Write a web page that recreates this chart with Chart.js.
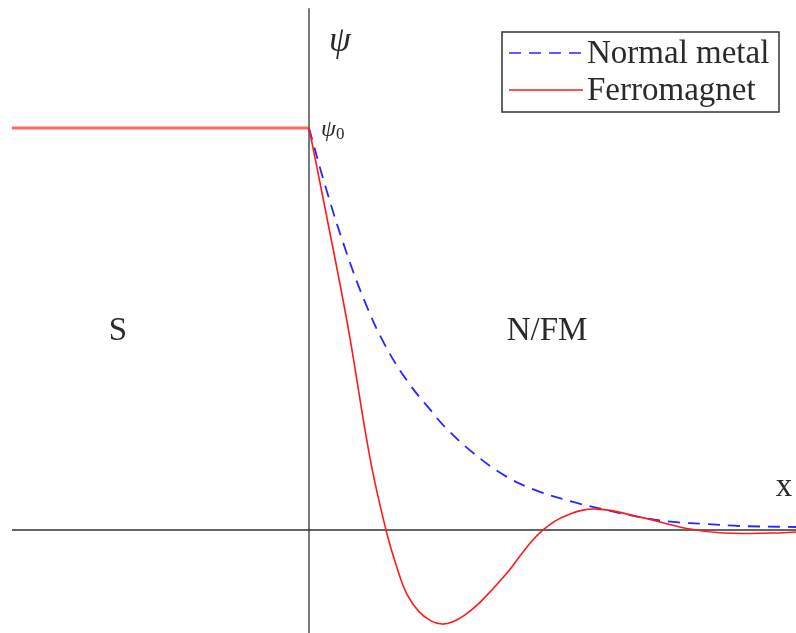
<!DOCTYPE html>
<html>
<head>
<meta charset="utf-8">
<script src="https://cdn.jsdelivr.net/npm/chart.js@4.4.0/dist/chart.umd.min.js"></script>
<style>
  html, body { margin: 0; padding: 0; background: #fff; }
  #wrap { position: relative; width: 796px; height: 633px; }
</style>
</head>
<body>
<div id="wrap"><canvas id="chart-psi"></canvas></div>
<script>
// ── Data: order parameter near an S / N(FM) interface (x in arb. units, psi / psi0) ──
const NORMAL_X = [0, 0.16, 0.36, 0.56, 0.76, 0.99, 1.23, 1.36, 1.64, 1.98, 2.31, 2.64, 2.88, 3.31, 3.64, 3.98, 4.31, 4.87];
const NORMAL_Y = [1, 0.858, 0.701, 0.567, 0.460, 0.368, 0.294, 0.256, 0.192, 0.132, 0.095, 0.070, 0.055, 0.032, 0.020, 0.015, 0.010, 0.0075];

const FERRO_X = [0, 0.16, 0.39, 0.61, 0.77, 0.88, 0.98, 1.10, 1.22, 1.33, 1.44, 1.56, 1.71, 1.98, 2.18, 2.34, 2.58, 2.88, 3.31, 3.81, 4.14, 4.64, 4.87];
const FERRO_Y = [1, 0.801, 0.505, 0.179, 0, -0.094, -0.160, -0.203, -0.226, -0.234, -0.228, -0.211, -0.180, -0.107, -0.042, 0, 0.037, 0.052, 0.032, 0.0025, -0.0075, -0.0075, -0.005];

// superconductor side: flat psi0
const SUPER_X = [-2.97, 0];
const SUPER_Y = [1, 1];

// extents of the two axis lines
const AXIS_X_RANGE = [-2.97, 4.87];
const AXIS_Y_RANGE = [-0.26, 1.298];

const LABELS = ['Normal metal', 'Ferromagnet'];

const pts = (xs, ys) => xs.map((x, i) => ({ x, y: ys[i] }));

const SERIF = '"Liberation Serif", "DejaVu Serif", serif';

// ── axes through the origin ──
const axesPlugin = {
  id: 'axes',
  beforeDatasetsDraw(chart) {
    const { ctx, scales: { x, y } } = chart;
    const x0 = x.getPixelForValue(0), y0 = y.getPixelForValue(0);
    ctx.save();
    ctx.strokeStyle = '#333';
    ctx.lineWidth = 1.3;
    ctx.beginPath();
    ctx.moveTo(x0, y.getPixelForValue(AXIS_Y_RANGE[1]));
    ctx.lineTo(x0, y.getPixelForValue(AXIS_Y_RANGE[0]));
    ctx.moveTo(x.getPixelForValue(AXIS_X_RANGE[0]), y0);
    ctx.lineTo(x.getPixelForValue(AXIS_X_RANGE[1]), y0);
    ctx.stroke();
    ctx.restore();
  },
};

// ── region labels, axis symbols and boxed legend ──
const textPlugin = {
  id: 'texts',
  afterDraw(chart) {
    const { ctx, scales: { x, y }, chartArea } = chart;
    ctx.save();
    ctx.fillStyle = '#2a2a2a';
    ctx.textBaseline = 'alphabetic';

    ctx.font = `33px ${SERIF}`;
    ctx.textAlign = 'center';
    ctx.fillText('S', x.getPixelForValue(-1.91), y.getPixelForValue(0.5) + 11);
    ctx.fillText('N/FM', x.getPixelForValue(2.38), y.getPixelForValue(0.5) + 11);
    ctx.fillText('x', chartArea.right - 12, y.getPixelForValue(0) - 34);

    // psi and psi0
    ctx.textAlign = 'left';
    ctx.font = `italic 35px ${SERIF}`;
    ctx.fillText('ψ', x.getPixelForValue(0) + 20, 51);
    const px0 = x.getPixelForValue(0) + 12, py0 = y.getPixelForValue(1) + 8;
    ctx.font = `italic 24px ${SERIF}`;
    ctx.fillText('ψ', px0, py0);
    const w = ctx.measureText('ψ').width;
    ctx.font = `17px ${SERIF}`;
    ctx.fillText('0', px0 + w, py0 + 3);

    // legend
    const lx = 502, ly = 32, lw = 277, lh = 80;
    ctx.strokeStyle = '#333';
    ctx.lineWidth = 1.5;
    ctx.strokeRect(lx, ly, lw, lh);
    const ds = chart.data.datasets;
    [1, 2].forEach((di, i) => {
      const yy = ly + 21 + i * 37;
      ctx.strokeStyle = ds[di].borderColor;
      ctx.lineWidth = 1.7;
      ctx.setLineDash(ds[di].borderDash || []);
      ctx.beginPath();
      ctx.moveTo(lx + 7, yy);
      ctx.lineTo(lx + 81, yy);
      ctx.stroke();
      ctx.setLineDash([]);
      ctx.fillStyle = '#2a2a2a';
      ctx.font = `33px ${SERIF}`;
      ctx.fillText(LABELS[i], lx + 85, yy + 10);
    });
    ctx.restore();
  },
};

new Chart(document.getElementById('chart-psi'), {
  type: 'line',
  data: {
    datasets: [
      {
        label: 'S',
        data: pts(SUPER_X, SUPER_Y),
        borderColor: 'rgba(255,40,40,0.7)',
        borderWidth: 3,
        pointRadius: 0,
        order: 3,
      },
      {
        label: LABELS[0],
        data: pts(NORMAL_X, NORMAL_Y),
        borderColor: '#2626ff',
        borderWidth: 1.8,
        borderDash: [12, 8],
        pointRadius: 0,
        tension: 0.4,
        order: 2,
      },
      {
        label: LABELS[1],
        data: pts(FERRO_X, FERRO_Y),
        borderColor: '#ff1a1a',
        borderWidth: 1.6,
        pointRadius: 0,
        tension: 0.4,
        order: 1,
      },
    ],
  },
  options: {
    responsive: true,
    maintainAspectRatio: false,
    animation: false,
    layout: { padding: 0 },
    plugins: { legend: { display: false }, tooltip: { enabled: false } },
    scales: {
      x: { type: 'linear', display: false, min: -3.09, max: 4.87 },
      y: { type: 'linear', display: false, min: -0.2562, max: 1.3184 },
    },
  },
  plugins: [axesPlugin, textPlugin],
});
</script>
</body>
</html>
